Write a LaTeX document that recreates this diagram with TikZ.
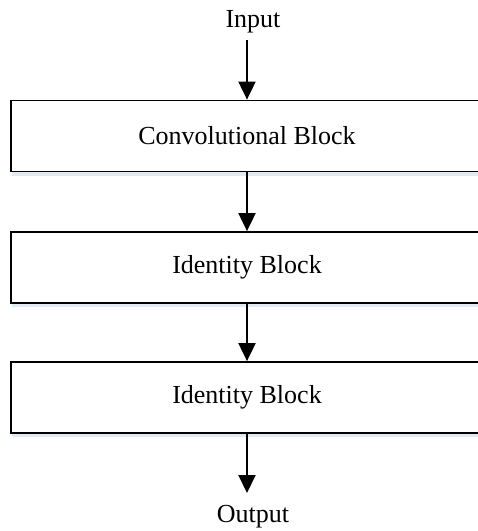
\documentclass[tikz,border=0pt]{standalone}
\usepackage{fontspec}
\setmainfont{Liberation Serif}
\usetikzlibrary{arrows.meta,shadows}
\definecolor{shadowblue}{RGB}{226,234,244}
\tikzset{
  block/.style={draw=black, line width=1.8pt, fill=white, minimum width=472pt,
    minimum height=71pt, inner sep=0pt, font=\fontsize{26}{30}\selectfont,
    drop shadow={shadow xshift=1pt, shadow yshift=-4pt, fill=shadowblue, opacity=1}},
  label/.style={inner sep=0pt, anchor=base, font=\fontsize{26}{30}\selectfont},
  flow/.style={line width=2pt, -{Triangle[width=17pt,length=18pt]}}
}
\begin{document}
\begin{tikzpicture}[x=1pt,y=-1pt]
\useasboundingbox (0,0) rectangle (478,531);
\clip (0,0) rectangle (478,531);
\fill[white] (0,0) rectangle (478,531);

% blocks
\node[block] (conv) at (247,136) {Convolutional Block};
\node[block] (id1) at (247,267.5) {Identity Block};
\node[block] (id2) at (247,397.5) {Identity Block};

% input and output labels
\node[label] (in) at (253,27) {Input};
\node[label] (out) at (253,522) {Output};
\coordinate (inarrow) at (247,40);
\coordinate (outarrow) at (247,493);

% connectors
\draw[flow] (inarrow) -- (conv.north);
\draw[flow] (conv.south) -- (id1.north);
\draw[flow] (id1.south) -- (id2.north);
\draw[flow] (id2.south) -- (outarrow);
\end{tikzpicture}
\end{document}
